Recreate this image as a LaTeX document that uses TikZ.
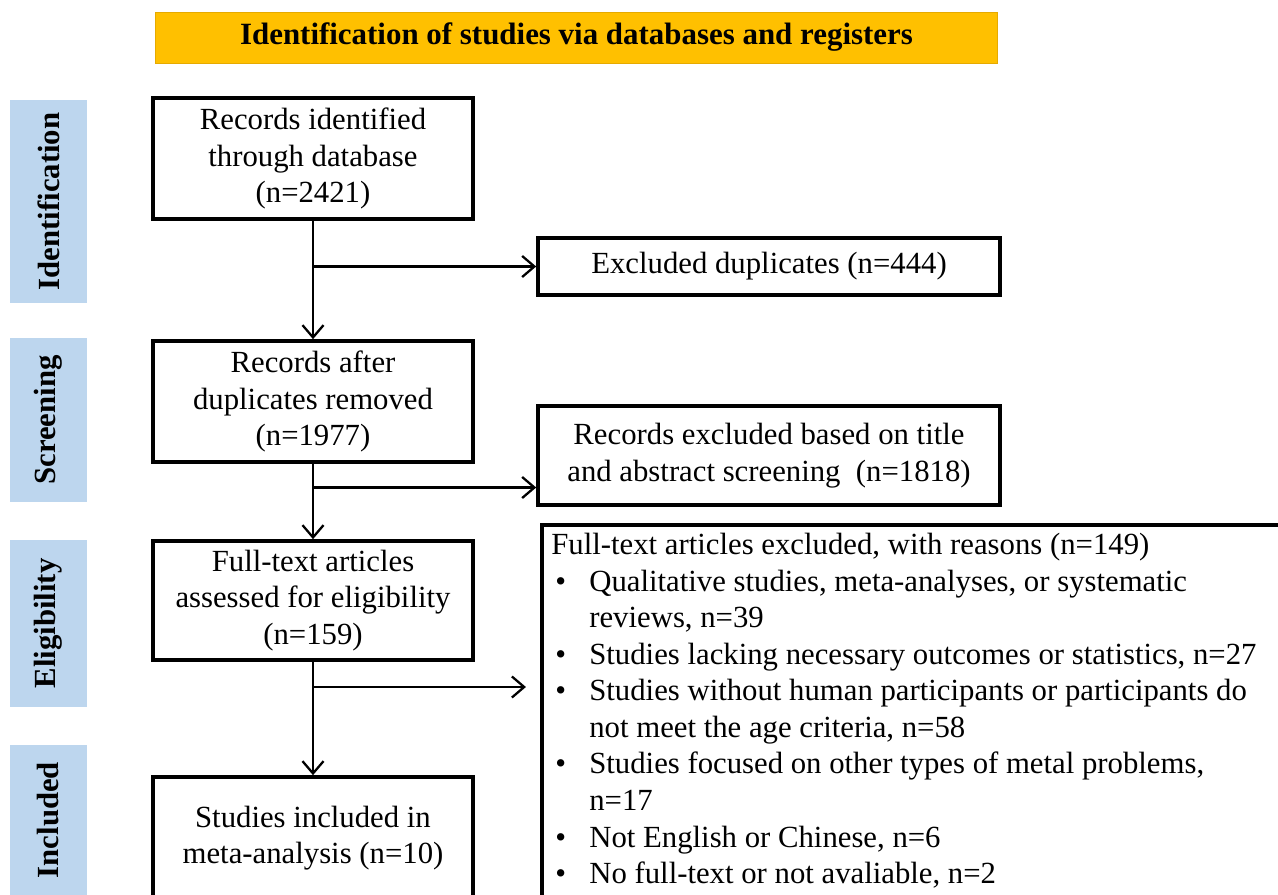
\documentclass[tikz,border=0pt]{standalone}
\usepackage{fontspec}
\setmainfont{Liberation Serif}
\usetikzlibrary{arrows.meta}
\definecolor{hdrfill}{RGB}{255,192,0}
\definecolor{hdrline}{RGB}{230,170,0}
\definecolor{sidefill}{RGB}{189,214,238}
\newcommand\bodyfont{\fontsize{17.5}{20.8}\selectfont}
\newcommand\blt{\makebox[0.76cm][l]{\hspace{0.08cm}\textbullet}}
\newcommand\ind{\hspace*{0.76cm}}
\tikzset{
  flowbox/.style={draw=black, line width=2.1pt, fill=white, align=center, font=\bodyfont, inner sep=0pt},
  sidebox/.style={fill=sidefill, draw=none, minimum width=1.54cm, inner sep=0pt},
  sidetext/.style={rotate=90, font=\fontsize{17.5}{20}\selectfont\bfseries},
  arr/.style={line width=1.3pt, -{Straight Barb[length=7pt,width=12pt,line width=1.3pt]}},
}
\begin{document}
\begin{tikzpicture}[x=0.02cm,y=-0.02cm]
\useasboundingbox (0,0) rectangle (1278,895);
\clip (0,0) rectangle (1278,895);
\fill[white] (0,0) rectangle (1278,895);
% header
\node[fill=hdrfill, draw=hdrline, line width=0.5pt, minimum width=16.86cm, minimum height=1.02cm, inner sep=0pt,
      font=\fontsize{17.6}{20}\selectfont\bfseries] (hdr) at (576.5,37.5) {Identification of studies via databases and registers};
% side labels
\node[sidebox, minimum height=4.06cm] (sI) at (48.5,201.5) {};
\node[sidetext] (tI) at (sI.center) {Identification};
\node[sidebox, minimum height=3.28cm] (sS) at (48.5,420) {};
\node[sidetext] (tS) at (sS.center) {Screening};
\node[sidebox, minimum height=3.34cm] (sE) at (48.5,623.5) {};
\node[sidetext] (tE) at (sE.center) {Eligibility};
\node[sidebox, minimum height=3.0cm] (sN) at (48.5,820) {};
\node[sidetext] (tN) at (sN.center) {Included};
% main boxes
\node[flowbox, minimum width=6.4cm, minimum height=2.42cm] (b1) at (313,158.5) {Records identified\\through database\\(n=2421)};
\node[flowbox, minimum width=6.4cm, minimum height=2.42cm] (b2) at (313,401.5) {Records after\\duplicates removed\\(n=1977)};
\node[flowbox, minimum width=6.4cm, minimum height=2.38cm] (b3) at (313,600.5) {Full-text articles\\assessed for eligibility\\(n=159)};
\node[flowbox, minimum width=6.4cm, minimum height=2.44cm] (b4) at (313,838) {Studies included in\\meta-analysis (n=10)};
% exclusion boxes
\node[flowbox, minimum width=9.24cm, minimum height=1.14cm] (x1) at (769,266.5) {Excluded duplicates (n=444)};
\node[flowbox, minimum width=9.24cm, minimum height=1.98cm] (x2) at (769,455.5) {Records excluded based on title\\and abstract screening~~(n=1818)};
\node[flowbox, anchor=north west, minimum width=15.2cm, minimum height=8cm] (x3) at (540,523) {};
\node[anchor=north west, align=left, font=\bodyfont, inner sep=0pt] (x3t) at (551,533) {%
Full-text articles excluded, with reasons (n=149)\\
\blt Qualitative studies, meta-analyses, or systematic\\
\ind reviews, n=39\\
\blt Studies lacking necessary outcomes or statistics, n=27\\
\blt Studies without human participants or participants do\\
\ind not meet the age criteria, n=58\\
\blt Studies focused on other types of metal problems,\\
\ind n=17\\
\blt Not English or Chinese, n=6\\
\blt No full-text or not avaliable, n=2};
% connectors
\draw[arr] (b1) -- (b2);
\draw[arr] (b2) -- (b3);
\draw[arr] (b3) -- (b4);
\draw[arr] (b1.south |- x1.west) -- (x1.west);
\draw[arr] (b2.south |- x2.west) ++(0,32) coordinate (c2) -- (x2.west |- c2);
\coordinate (c3) at (314,687);
\draw[arr, shorten >=8pt] (c3) -- (x3.west |- c3);
\end{tikzpicture}
\end{document}
